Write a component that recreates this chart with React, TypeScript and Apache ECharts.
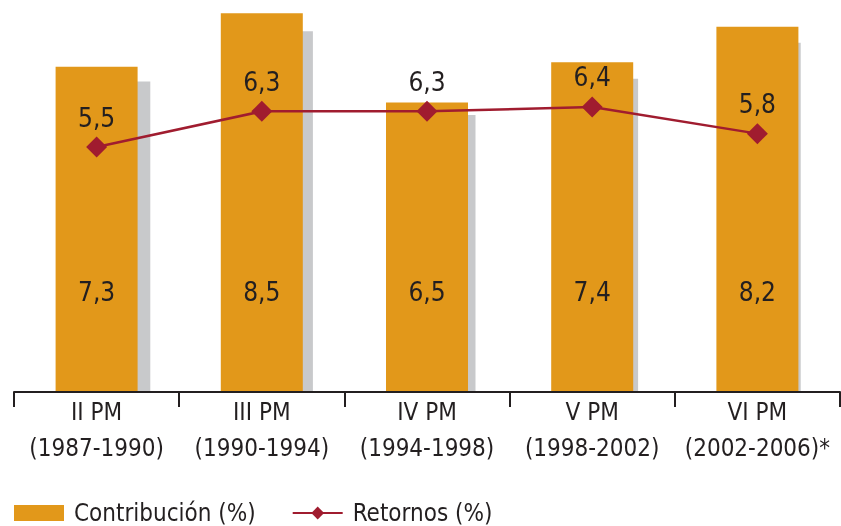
import React, { useEffect, useRef } from "react";
import * as echarts from "echarts";

const periodos = ["II PM", "III PM", "IV PM", "V PM", "VI PM"];
const anios = ["(1987-1990)", "(1990-1994)", "(1994-1998)", "(1998-2002)", "(2002-2006)*"];
const contribucion = [7.3, 8.5, 6.5, 7.4, 8.2];
const sombra = [6.97, 8.1, 6.22, 7.03, 7.84];
const retornos = [5.5, 6.3, 6.3, 6.4, 5.8];

const FONT = "'DejaVu Sans Condensed', 'Liberation Sans Narrow', sans-serif";
const TEXT = "#231f20";
const ORANGE = "#e2981a";
const GREY = "#c8c9cb";
const RED = "#a01c2f";

export default function App() {
  const ref = useRef<HTMLDivElement>(null);
  useEffect(() => {
    if (!ref.current) return;
    const chart = echarts.init(ref.current, undefined, { renderer: "svg" });
    const cats = periodos.map((p, i) => p + "\n" + anios[i]);
    chart.setOption({
      animation: false,
      textStyle: { fontFamily: FONT },
      grid: [
        { left: 14, top: 0, width: 826, height: 392 },
        { left: 28, top: 0, width: 826, height: 392 },
      ],
      xAxis: [
        {
          type: "category",
          gridIndex: 0,
          data: cats,
          boundaryGap: true,
          axisLine: { show: true, lineStyle: { color: TEXT, width: 2 } },
          axisTick: { show: true, interval: 0, length: 15, lineStyle: { color: TEXT, width: 2 } },
          axisLabel: {
            interval: 0,
            margin: 2,
            fontFamily: FONT,
            fontSize: 24,
            lineHeight: 36,
            color: TEXT,
          },
          z: 10,
        },
        {
          type: "category",
          gridIndex: 1,
          data: cats,
          show: false,
        },
      ],
      yAxis: [
        { type: "value", gridIndex: 0, min: 0, max: 8.8, show: false, splitLine: { show: false } },
        { type: "value", gridIndex: 1, min: 0, max: 8.8, show: false, splitLine: { show: false } },
      ],
      legend: {
        left: 14,
        top: 501,
        padding: 0,
        itemWidth: 50,
        itemHeight: 16,
        itemGap: 36,
        data: [
          { name: "Contribución (%)", icon: "rect" },
          { name: "Retornos (%)" },
        ],
        textStyle: { fontFamily: FONT, fontSize: 24, lineHeight: 24, color: TEXT, padding: [0, 0, 0, 5] },
      },
      series: [
        {
          name: "sombra",
          type: "bar",
          xAxisIndex: 1,
          yAxisIndex: 1,
          data: sombra,
          barWidth: 82,
          itemStyle: { color: GREY },
          z: 1,
          silent: true,
        },
        {
          name: "Contribución (%)",
          type: "bar",
          xAxisIndex: 0,
          yAxisIndex: 0,
          data: contribucion,
          barWidth: 82,
          itemStyle: { color: ORANGE },
          z: 2,
          label: {
            show: true,
            position: "insideBottom",
            distance: 86,
            fontFamily: FONT,
            fontSize: 26,
            lineHeight: 28,
            color: TEXT,
            formatter: (p: any) => String(p.value).replace(".", ","),
          },
        },
        {
          name: "Retornos (%)",
          type: "line",
          xAxisIndex: 0,
          yAxisIndex: 0,
          data: retornos,
          symbol: "diamond",
          symbolSize: 21,
          lineStyle: { color: RED, width: 2.5 },
          itemStyle: { color: RED },
          z: 3,
          label: {
            show: true,
            position: "top",
            distance: 5,
            fontFamily: FONT,
            fontSize: 26,
            lineHeight: 28,
            color: TEXT,
            formatter: (p: any) => p.value.toFixed(1).replace(".", ","),
          },
        },
      ],
    });
    return () => chart.dispose();
  }, []);
  return (
    <div
      ref={ref}
      style={{ position: "fixed", left: 0, top: 0, width: 841, height: 526 }}
    />
  );
}
